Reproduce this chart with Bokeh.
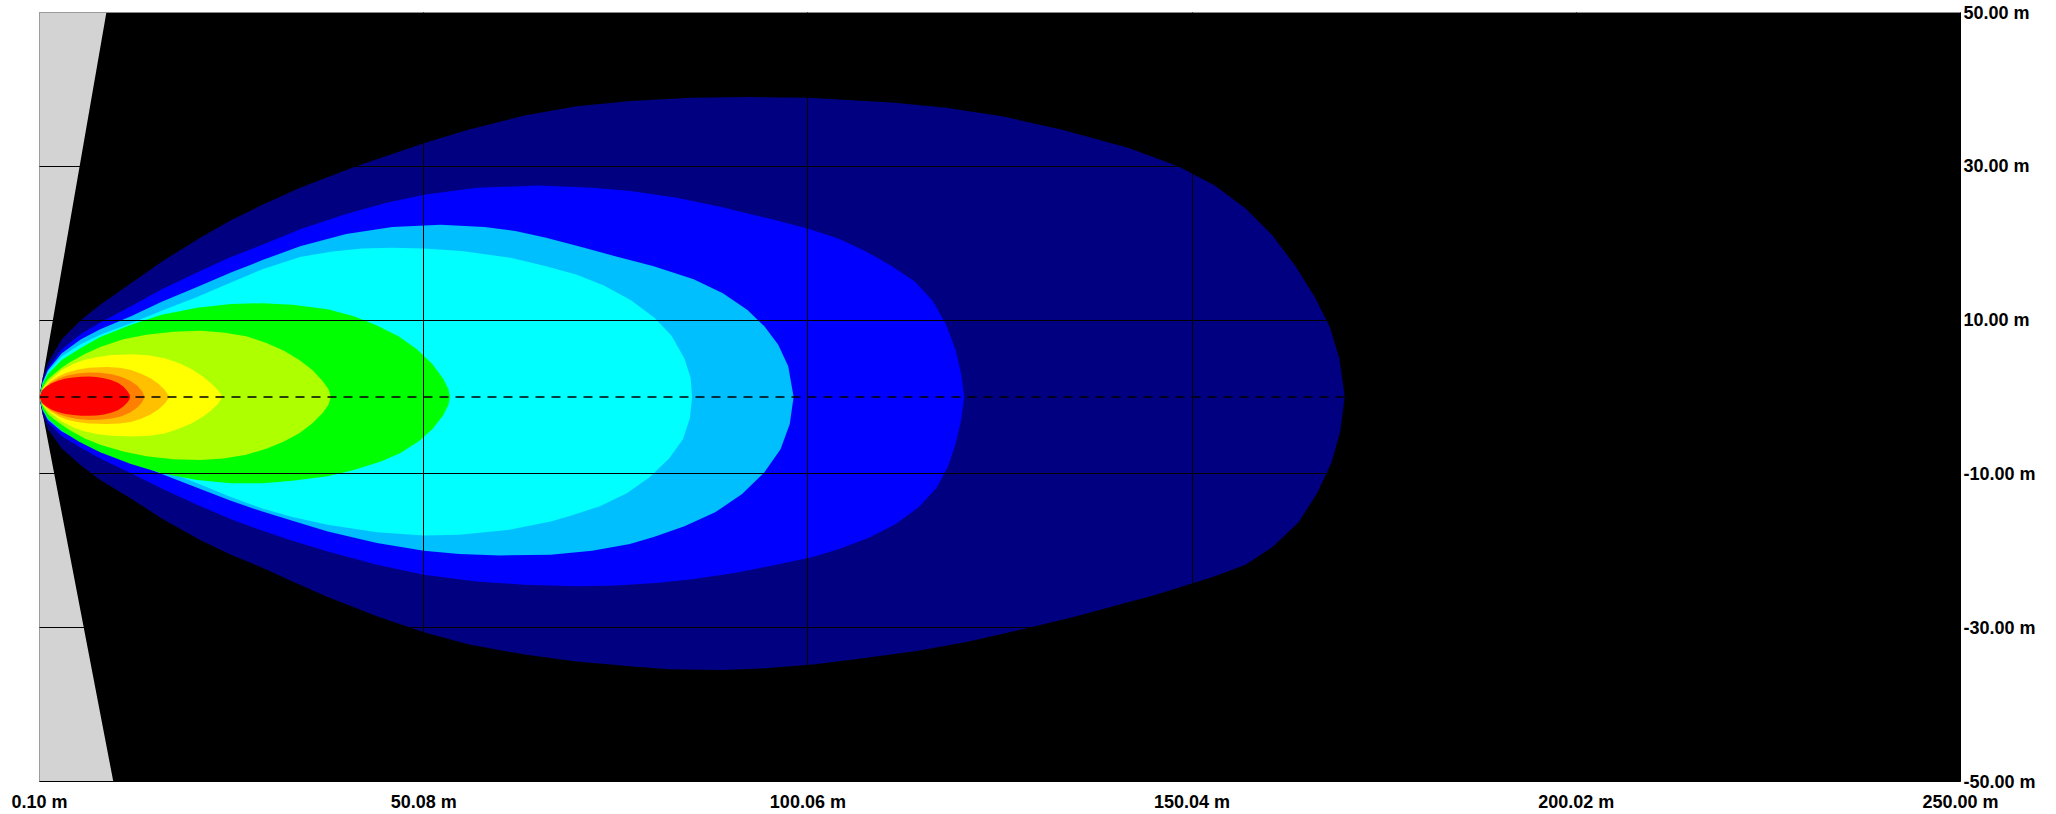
from bokeh.plotting import figure
from bokeh.models import Range1d, FixedTicker, PrintfTickFormatter, Span, AllLabels
from bokeh.embed import file_html
from bokeh.resources import INLINE

# ---- axes ----
X_TICKS = [0.10, 50.08, 100.06, 150.04, 200.02, 250.00]
Y_TICKS = [-50, -30, -10, 10, 30, 50]
X_GRID = [50.08, 100.06, 150.04, 200.02]
Y_GRID = [-30, -10, 10, 30]

# ---- blind zone (grey wedge behind the lamp) ----
BLIND_X = [0.1, 8.8, 0.1, 9.7, 0.1]
BLIND_Y = [50, 50, 0, -50, -50]

# ---- iso-lux contours (outer -> inner): upper edge apex->tip, lower edge tip->apex ----
LEVEL_COLORS = ["#000080", "#0000FF", "#00BFFF", "#00FFFF", "#00FF00",
                "#AEFF00", "#FFFF00", "#FFC000", "#FF8000", "#FF0000"]

NAVY_TOP = [(0.1, 0), (0.5, 2.5), (1.2, 4.5), (3.0, 7.5), (5.5, 10.0), (8.0, 12.0), (12.0, 14.8),
            (16.0, 17.6), (21.0, 20.7), (25.0, 23.0), (29.1, 25.0), (34.0, 27.2), (41.3, 30.0),
            (50.1, 33.0), (56.0, 34.8), (63.2, 36.6), (70.0, 37.8), (77.0, 38.5), (85.0, 38.9),
            (92.5, 39.0), (100.0, 38.9), (111.0, 38.3), (118.0, 37.6), (125.3, 36.5), (133.0, 34.8),
            (141.7, 32.4), (148.2, 30.0), (153.0, 27.5), (157.0, 24.5), (160.5, 21.0), (163.5, 17.0),
            (166.0, 13.0), (168.0, 9.0), (169.2, 5.0), (169.9, 0)]
NAVY_BOT = [(169.9, 0), (169.3, -4.5), (168.2, -8.5), (166.3, -12.5), (163.9, -16.3), (160.5, -19.5),
            (157.0, -21.8), (153.0, -23.3), (149.9, -24.3), (145.0, -25.8), (141.7, -26.7),
            (135.0, -28.5), (128.0, -30.2), (121.0, -31.8), (114.4, -33.0), (107.0, -34.0),
            (100.7, -34.8), (94.0, -35.3), (88.8, -35.5), (82.0, -35.4), (76.9, -35.0), (70.0, -34.4),
            (63.2, -33.5), (56.0, -32.2), (50.1, -30.6), (44.0, -28.5), (37.6, -26.0), (33.0, -24.0),
            (29.1, -22.2), (25.0, -20.5), (21.0, -18.6), (16.0, -15.8), (12.0, -13.2), (8.0, -10.8),
            (5.5, -8.9), (3.0, -6.7), (1.2, -4.2), (0.5, -2.3), (0.1, 0)]

BLUE_TOP = [(0.1, 0), (0.5, 2.0), (1.2, 3.8), (3.0, 6.2), (5.5, 8.2), (8.0, 9.7), (12.0, 11.8),
            (16.0, 14.0), (20.6, 16.2), (25.0, 18.2), (29.1, 19.8), (34.0, 21.8), (40.0, 23.8),
            (45.0, 25.2), (50.1, 26.3), (57.0, 27.2), (65.1, 27.5), (72.0, 27.2), (77.0, 26.8),
            (83.0, 25.9), (88.8, 24.7), (95.0, 23.2), (100.0, 21.9), (104.0, 20.6), (107.5, 19.0),
            (111.0, 17.0), (114.0, 15.0), (116.3, 12.5), (118.0, 9.5), (119.3, 6.0), (120.0, 3.0),
            (120.4, 0)]
BLUE_BOT = [(120.4, 0), (120.0, -3.0), (119.3, -6.0), (118.3, -9.0), (116.8, -11.8), (114.5, -14.3),
            (111.5, -16.5), (108.0, -18.3), (104.0, -19.8), (100.7, -20.8), (95.0, -22.0),
            (90.5, -22.9), (85.0, -23.7), (80.3, -24.2), (75.0, -24.5), (70.0, -24.6), (63.2, -24.4),
            (57.0, -24.0), (50.1, -23.1), (44.0, -21.8), (37.6, -20.1), (33.0, -18.7), (29.1, -17.4),
            (25.0, -15.9), (20.6, -14.0), (16.0, -11.9), (12.0, -9.9), (8.0, -8.0), (5.5, -6.6),
            (3.0, -5.1), (1.2, -3.3), (0.5, -1.8), (0.1, 0)]

SKY_TOP = [(0.1, 0), (0.5, 1.9), (1.2, 3.5), (3.0, 5.7), (5.5, 7.5), (8.0, 8.8), (12.0, 10.5),
           (16.0, 12.4), (20.6, 14.3), (25.0, 16.2), (29.1, 17.8), (34.0, 19.6), (40.0, 21.2),
           (46.0, 22.1), (52.3, 22.4), (58.0, 22.1), (62.0, 21.6), (66.0, 20.7), (70.6, 19.5),
           (75.0, 18.3), (80.0, 17.0), (85.2, 15.3), (89.0, 13.5), (92.2, 11.3), (94.4, 9.2),
           (96.2, 6.8), (97.5, 4.0), (98.2, 0)]
SKY_BOT = [(98.2, 0), (97.7, -3.5), (96.5, -6.8), (94.4, -9.8), (91.5, -12.6), (88.0, -15.0),
           (84.0, -16.8), (80.0, -18.2), (76.9, -19.1), (72.0, -20.0), (66.6, -20.5), (60.0, -20.6),
           (54.7, -20.4), (50.1, -20.0), (44.0, -19.0), (37.6, -17.5), (33.0, -16.1), (29.1, -14.9),
           (25.0, -13.5), (20.6, -11.8), (16.0, -10.0), (12.0, -8.4), (8.0, -6.9), (5.5, -5.8),
           (3.0, -4.5), (1.2, -3.0), (0.5, -1.7), (0.1, 0)]

CYAN_TOP = [(0.1, 0), (0.5, 1.8), (1.2, 3.3), (3.0, 5.3), (5.5, 6.9), (8.0, 8.1), (12.0, 9.6),
            (16.0, 11.2), (20.6, 13.0), (25.0, 14.9), (29.1, 16.6), (34.0, 18.2), (38.0, 18.9),
            (42.0, 19.3), (46.0, 19.4), (50.1, 19.3), (55.0, 19.0), (61.4, 18.1), (66.0, 17.0),
            (70.0, 15.9), (73.5, 14.5), (77.0, 12.6), (80.1, 10.3), (82.3, 8.0), (84.0, 5.0),
            (84.8, 2.5), (85.0, 0)]
CYAN_BOT = [(85.0, 0), (84.7, -2.8), (83.8, -5.5), (82.0, -8.0), (79.5, -10.4), (76.5, -12.5),
            (73.0, -14.2), (69.0, -15.5), (66.6, -16.2), (61.0, -17.3), (54.7, -17.9), (50.1, -18.0),
            (44.0, -17.6), (37.6, -16.6), (33.0, -15.6), (29.1, -14.5), (25.0, -13.0), (20.6, -11.2),
            (16.0, -9.4), (12.0, -7.8), (8.0, -6.4), (5.5, -5.3), (3.0, -4.1), (1.2, -2.8),
            (0.5, -1.6), (0.1, 0)]

GREEN_TOP = [(0.1, 0), (0.5, 1.7), (1.2, 3.0), (3.0, 4.8), (5.2, 6.2), (8.0, 7.8), (12.0, 9.4),
             (16.0, 10.7), (20.6, 11.6), (25.0, 12.1), (29.1, 12.2), (33.0, 12.0), (37.6, 11.4),
             (41.0, 10.5), (44.0, 9.3), (46.8, 7.9), (49.2, 6.2), (51.2, 4.3), (52.6, 2.4),
             (53.3, 1.0), (53.5, 0)]
GREEN_BOT = [(53.5, 0), (53.3, -1.0), (52.6, -2.4), (51.2, -4.2), (49.4, -5.8), (47.0, -7.3),
             (44.5, -8.4), (41.0, -9.5), (37.6, -10.3), (33.0, -10.9), (29.1, -11.2), (25.0, -11.2),
             (20.6, -10.8), (16.0, -9.9), (12.0, -8.7), (8.0, -7.2), (5.2, -5.8), (3.0, -4.4),
             (1.2, -2.8), (0.5, -1.6), (0.1, 0)]

LIME_TOP = [(0.1, 0), (0.6, 1.4), (1.2, 2.3), (2.0, 3.0), (3.0, 3.8), (4.0, 4.5), (6.0, 5.6),
            (8.0, 6.5), (11.0, 7.5), (14.0, 8.1), (17.5, 8.5), (21.0, 8.6), (24.0, 8.4), (27.0, 7.9),
            (29.7, 7.0), (31.9, 6.0), (33.9, 4.8), (35.6, 3.5), (36.9, 2.1), (37.7, 1.0), (38.0, 0)]
LIME_BOT = [(38.0, 0), (37.7, -1.0), (36.9, -2.1), (35.6, -3.4), (33.9, -4.7), (31.9, -5.8),
            (29.7, -6.7), (27.0, -7.5), (24.0, -8.0), (21.0, -8.2), (17.5, -8.1), (14.0, -7.7),
            (11.0, -7.1), (8.0, -6.2), (6.0, -5.4), (4.0, -4.3), (3.0, -3.6), (2.0, -2.9),
            (1.2, -2.2), (0.6, -1.3), (0.1, 0)]

YELLOW_TOP = [(0.1, 0), (0.5, 1.1), (1.5, 2.2), (3.0, 3.5), (4.5, 4.3), (5.9, 4.8), (7.7, 5.2),
              (9.5, 5.45), (12.3, 5.55), (14.5, 5.4), (16.5, 5.0), (18.3, 4.4), (19.9, 3.6),
              (21.3, 2.7), (22.4, 1.8), (23.3, 0.9), (23.9, 0)]
YELLOW_BOT = [(23.9, 0), (23.3, -0.9), (22.4, -1.8), (21.3, -2.6), (19.9, -3.4), (18.3, -4.1),
              (16.5, -4.7), (14.5, -5.05), (12.3, -5.15), (9.5, -5.05), (7.7, -4.85), (5.9, -4.45),
              (4.5, -3.95), (3.0, -3.2), (1.5, -2.0), (0.5, -1.0), (0.1, 0)]

LORANGE_TOP = [(0.1, 0), (0.5, 1.0), (1.5, 2.0), (2.6, 2.7), (3.7, 3.2), (5.0, 3.55), (6.5, 3.8),
               (8.9, 3.9), (10.5, 3.8), (12.0, 3.5), (13.4, 3.0), (14.6, 2.4), (15.6, 1.7),
               (16.4, 0.9), (17.0, 0)]
LORANGE_BOT = [(17.0, 0), (16.4, -0.85), (15.6, -1.6), (14.6, -2.25), (13.4, -2.8), (12.0, -3.25),
               (10.5, -3.45), (8.9, -3.5), (6.5, -3.45), (5.0, -3.25), (3.7, -2.95), (2.6, -2.5),
               (1.5, -1.85), (0.5, -0.95), (0.1, 0)]

ORANGE_TOP = [(0.1, 0), (0.5, 0.95), (1.5, 1.8), (2.6, 2.4), (3.7, 2.8), (5.0, 3.05), (6.5, 3.2),
              (8.0, 3.15), (9.5, 2.95), (10.8, 2.6), (11.9, 2.1), (12.8, 1.5), (13.4, 0.8), (13.8, 0)]
ORANGE_BOT = [(13.8, 0), (13.4, -0.75), (12.8, -1.4), (11.9, -2.0), (10.8, -2.5), (9.5, -2.8),
              (8.0, -2.95), (6.5, -3.0), (5.0, -2.85), (3.7, -2.6), (2.6, -2.25), (1.5, -1.7),
              (0.5, -0.9), (0.1, 0)]

RED_TOP = [(0.1, 0), (0.4, 0.8), (1.0, 1.35), (1.7, 1.8), (2.5, 2.1), (3.5, 2.4), (4.5, 2.55),
           (5.5, 2.63), (6.5, 2.65), (7.5, 2.6), (8.5, 2.45), (9.4, 2.2), (10.3, 1.85), (11.0, 1.35),
           (11.5, 0.8), (11.8, 0.35), (11.9, 0)]
RED_BOT = [(11.9, 0), (11.8, -0.33), (11.5, -0.75), (11.0, -1.25), (10.3, -1.72), (9.4, -2.05),
           (8.5, -2.28), (7.5, -2.4), (6.5, -2.45), (5.5, -2.43), (4.5, -2.35), (3.5, -2.2),
           (2.5, -1.95), (1.7, -1.65), (1.0, -1.25), (0.4, -0.75), (0.1, 0)]

CONTOURS = [(NAVY_TOP, NAVY_BOT), (BLUE_TOP, BLUE_BOT), (SKY_TOP, SKY_BOT), (CYAN_TOP, CYAN_BOT),
            (GREEN_TOP, GREEN_BOT), (LIME_TOP, LIME_BOT), (YELLOW_TOP, YELLOW_BOT),
            (LORANGE_TOP, LORANGE_BOT), (ORANGE_TOP, ORANGE_BOT), (RED_TOP, RED_BOT)]

FONT = "Liberation Sans"

p = figure(width=2056, height=814, output_backend="svg", toolbar_location=None,
           x_range=Range1d(0.1, 250.0), y_range=Range1d(-50, 50),
           y_axis_location="right",
           min_border_left=39, min_border_right=96, min_border_top=12, min_border_bottom=33)
p.background_fill_color = "black"
p.border_fill_color = "white"
p.outline_line_color = "#8a8a8a"
p.outline_line_width = 1

# grey blind zone
p.patch(BLIND_X, BLIND_Y, fill_color="#d3d3d3", line_color=None)

# contours
for color, (top, bot) in zip(LEVEL_COLORS, CONTOURS):
    pts = top + bot
    p.patch([q[0] for q in pts], [q[1] for q in pts], fill_color=color, line_color=None)

# grid on top
p.xgrid.ticker = FixedTicker(ticks=X_GRID)
p.ygrid.ticker = FixedTicker(ticks=Y_GRID)
for g in (p.xgrid, p.ygrid):
    g.grid_line_color = "black"
    g.grid_line_alpha = 1.0
    g.grid_line_width = 1
    g.level = "overlay"

# centre axis (dashed)
p.add_layout(Span(location=0, dimension="width", line_color="black",
                  line_width=1.3, line_dash="9 7", level="overlay"))

# axes
xa = p.xaxis[0]
xa.ticker = FixedTicker(ticks=X_TICKS)
xa.formatter = PrintfTickFormatter(format="%.2f m")
ya = p.yaxis[0]
ya.ticker = FixedTicker(ticks=Y_TICKS)
ya.formatter = PrintfTickFormatter(format="%.2f m")
for ax in (xa, ya):
    ax.major_label_policy = AllLabels()
    ax.major_tick_out = 0
    ax.major_tick_in = 0
    ax.minor_tick_out = 0
    ax.minor_tick_in = 0
    ax.axis_line_color = "black"
    ax.major_label_text_font = FONT
    ax.major_label_text_font_style = "bold"
    ax.major_label_text_font_size = "18px"
    ax.major_label_text_color = "black"
xa.major_label_standoff = 10
ya.major_label_standoff = 3

open("out.html", "w").write(file_html(p, INLINE))
